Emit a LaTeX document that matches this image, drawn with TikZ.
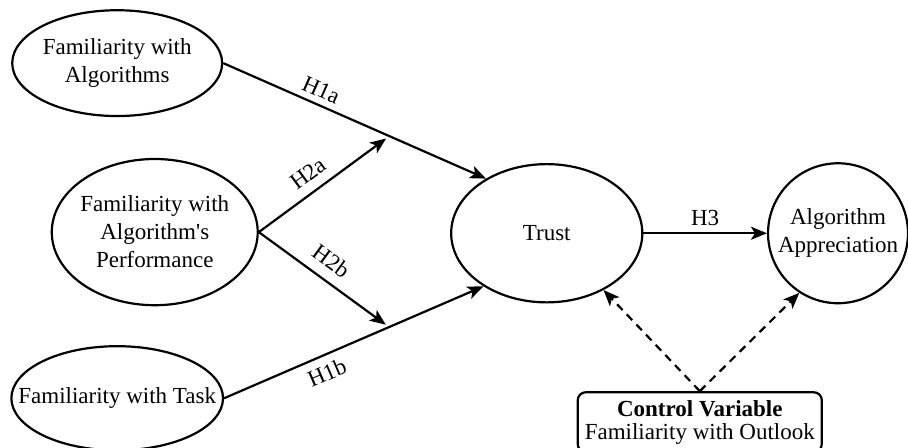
\documentclass[tikz,border=0pt]{standalone}
\usepackage{fontspec}
\setmainfont{Liberation Serif}
\usetikzlibrary{shapes.geometric,arrows.meta}
\begin{document}
\begin{tikzpicture}[
  font=\fontsize{11.5}{14}\selectfont,
  line width=1.1pt,
  latent/.style={draw, ellipse, inner sep=-12pt, align=center},
  hyp/.style={-{Stealth[length=8pt,width=6.5pt,inset=2pt]}},
  ctl/.style={hyp, dash pattern=on 4pt off 3pt},
  lbl/.style={sloped, inner sep=3pt}
]
\useasboundingbox (0,0) rectangle (15.96,7.86);
\node[latent, minimum width=3.69cm, minimum height=1.86cm] (fa) at (2.06,6.75) {Familiarity with\\Algorithms};
\node[latent, minimum width=3.62cm, minimum height=2.57cm] (fp) at (2.72,3.78) {Familiarity with\\Algorithm\textquotesingle s\\Performance};
\node[latent, minimum width=3.69cm, minimum height=1.83cm] (ft) at (2.06,0.86) {Familiarity with Task};
\node[latent, minimum width=3.36cm, minimum height=2.43cm] (trust) at (9.61,3.76) {Trust};
\node[draw, circle, inner sep=0pt, minimum size=2.46cm, align=center] (appr) at (14.73,3.76) {Algorithm\\Appreciation};
\node[draw, rounded corners=4pt, inner sep=0pt, minimum width=4.29cm, minimum height=1.05cm, align=center,
  font=\fontsize{11.5}{11.5}\selectfont] (ctrl) at (12.30,0.44) {\textbf{Control Variable}\\Familiarity with Outlook};
% main paths
\draw[hyp] (fa.east) -- node[lbl, pos=0.35, above] {H1a} coordinate[pos=0.632] (ma) (trust.138);
\draw[hyp] (ft.east) -- node[lbl, pos=0.37, below, inner sep=4pt] {H1b} coordinate[pos=0.636] (mb) (trust.220);
\draw[hyp] (trust.east) -- node[above, inner sep=3pt] {H3} (appr.west);
% moderation
\draw[hyp, shorten >=2pt] (fp.east) -- node[lbl, pos=0.46, above, inner sep=4.5pt] {H2a} (ma);
\draw[hyp, shorten >=2pt] (fp.east) -- node[lbl, pos=0.47, above, inner sep=5pt] {H2b} (mb);
% control variable
\draw[ctl] (ctrl.north) -- (trust.-45);
\draw[ctl] (ctrl.north) -- (appr.237);
\end{tikzpicture}
\end{document}
